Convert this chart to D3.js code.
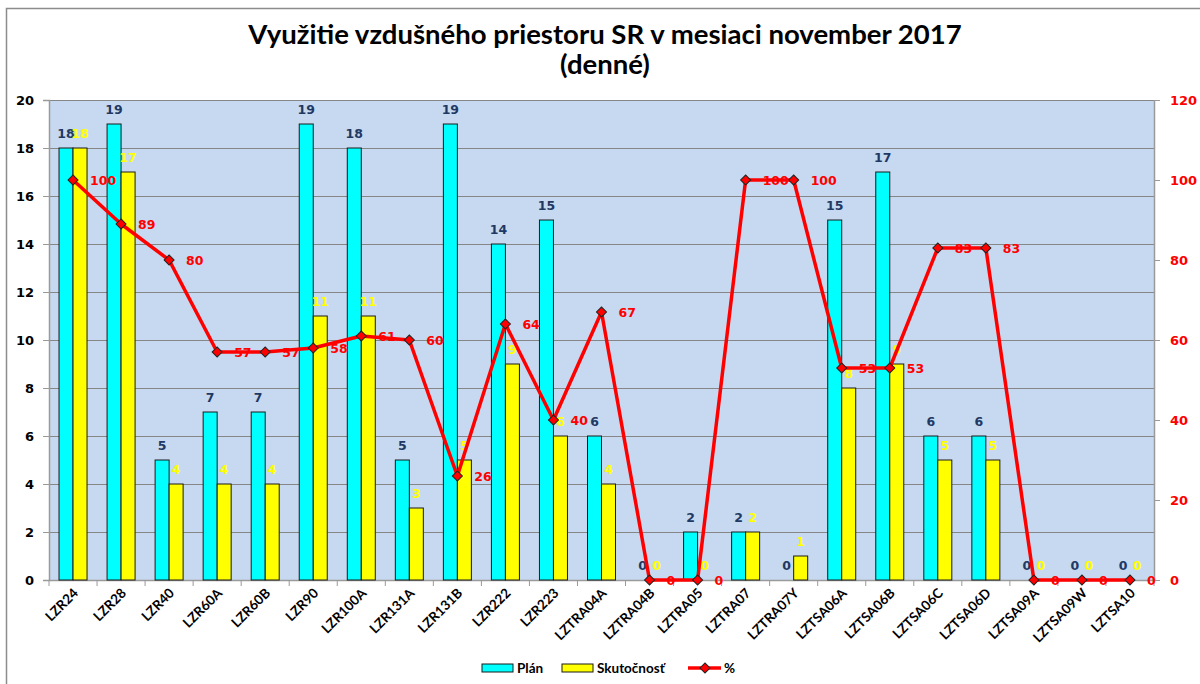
<!DOCTYPE html>
<html>
<head>
<meta charset="utf-8">
<script src="https://cdn.jsdelivr.net/npm/d3@7/dist/d3.min.js"></script>
<style>
  html, body { margin: 0; padding: 0; background: #ffffff; }
  svg { display: block; }
</style>
</head>
<body>
<svg id="chart" width="1200" height="684"></svg>
<script>
const categories = ["LZR24","LZR28","LZR40","LZR60A","LZR60B","LZR90","LZR100A","LZR131A","LZR131B","LZR222","LZR223","LZTRA04A","LZTRA04B","LZTRA05","LZTRA07","LZTRA07Y","LZTSA06A","LZTSA06B","LZTSA06C","LZTSA06D","LZTSA09A","LZTSA09W","LZTSA10"];
const plan    = [18,19,5,7,7,19,18,5,19,14,15,6,0,2,2,0,15,17,6,6,0,0,0];
const actual  = [18,17,4,4,4,11,11,3,5,9,6,4,0,0,2,1,8,9,5,5,0,0,0];
const percent = [100,89,80,57,57,58,61,60,26,64,40,67,0,0,100,100,53,53,83,83,0,0,0];
const leftTicks  = [0,2,4,6,8,10,12,14,16,18,20];
const rightTicks = [0,20,40,60,80,100,120];
const titleLines = ["Využitie vzdušného priestoru SR v mesiaci november 2017", "(denné)"];
const legendLabels = ["Plán", "Skutočnosť", "%"];

const svg = d3.select("#chart");
const plot = {left: 49, right: 1154, top: 100, bottom: 580};

// outer chart border
svg.append("rect").attr("x", 6.5).attr("y", 8.5).attr("width", 1250).attr("height", 720)
  .attr("fill", "#fff").attr("stroke", "#8c8c8c").attr("stroke-width", 1.5);

const x = d3.scaleBand().domain(categories).range([plot.left, plot.right]).paddingInner(0).paddingOuter(0);
const xSub = d3.scaleBand().domain(["plan","actual"]).range([0, 28]);
const yL = d3.scaleLinear().domain([0, 20]).range([plot.bottom, plot.top]);
const yR = d3.scaleLinear().domain([0, 120]).range([plot.bottom, plot.top]);

// plot background
svg.append("rect").attr("x", plot.left).attr("y", plot.top)
  .attr("width", plot.right - plot.left).attr("height", plot.bottom - plot.top)
  .attr("fill", "#c6d9f0");

// gridlines
svg.append("g").selectAll("line").data(leftTicks.filter(d => d > 0)).join("line")
  .attr("x1", plot.left).attr("x2", plot.right)
  .attr("y1", d => Math.round(yL(d)) + 0.5).attr("y2", d => Math.round(yL(d)) + 0.5)
  .attr("stroke", "#868686").attr("stroke-width", 1);

// right border of plot
svg.append("line").attr("x1", plot.right + 0.5).attr("x2", plot.right + 0.5)
  .attr("y1", plot.top).attr("y2", plot.bottom).attr("stroke", "#9a9a9a").attr("stroke-width", 1.5);

// left axis
const axL = svg.append("g").attr("transform", `translate(${plot.left},0)`)
  .call(d3.axisLeft(yL).tickValues(leftTicks).tickSize(6).tickPadding(9));
axL.select(".domain").attr("stroke", "#9a9a9a").attr("stroke-width", 1.5);
axL.selectAll(".tick line").attr("stroke", "#9a9a9a");
axL.selectAll(".tick text").attr("font-family", "DejaVu Sans").attr("font-weight", "bold")
  .attr("font-size", 13).attr("fill", "#000");

// right axis
const axR = svg.append("g").attr("transform", `translate(${plot.right},0)`)
  .call(d3.axisRight(yR).tickValues(rightTicks).tickSize(6).tickPadding(10));
axR.select(".domain").remove();
axR.selectAll(".tick line").attr("stroke", "#9a9a9a");
axR.selectAll(".tick text").attr("font-family", "DejaVu Sans").attr("font-weight", "bold")
  .attr("font-size", 13).attr("fill", "#ff0000");

// bottom axis
const axB = svg.append("g").attr("transform", `translate(0,${plot.bottom})`)
  .call(d3.axisBottom(x).tickSize(0).tickFormat(""));
axB.select(".domain").attr("stroke", "#9a9a9a").attr("stroke-width", 1.5);
svg.append("g").selectAll("line").data(categories).join("line")
  .attr("x1", (d) => x(d) + x.bandwidth()).attr("x2", (d) => x(d) + x.bandwidth())
  .attr("y1", plot.bottom).attr("y2", plot.bottom + 6).attr("stroke", "#9a9a9a");
svg.append("line").attr("x1", plot.left).attr("x2", plot.left).attr("y1", plot.bottom).attr("y2", plot.bottom + 6).attr("stroke", "#9a9a9a");

// x labels
svg.append("g").selectAll("text").data(categories).join("text")
  .attr("transform", d => `translate(${x(d) + x.bandwidth() / 2 + 6},${plot.bottom + 14}) rotate(-45)`)
  .attr("text-anchor", "end")
  .attr("font-family", "Lato").attr("font-weight", "bold").attr("font-size", 13.5).attr("fill", "#000")
  .text(d => d);

// bars
const barOffset = (x.bandwidth() - 28) / 2;
const bars = svg.append("g");
bars.selectAll("rect.plan").data(categories).join("rect").attr("class", "plan")
  .attr("x", (d) => x(d) + barOffset + xSub("plan"))
  .attr("y", (d, i) => yL(plan[i]))
  .attr("width", xSub.bandwidth())
  .attr("height", (d, i) => yL(0) - yL(plan[i]))
  .attr("fill", "#00ffff").attr("stroke", (d, i) => plan[i] > 0 ? "#1a1a1a" : "none").attr("stroke-width", 1);
bars.selectAll("rect.actual").data(categories).join("rect").attr("class", "actual")
  .attr("x", (d) => x(d) + barOffset + xSub("actual"))
  .attr("y", (d, i) => yL(actual[i]))
  .attr("width", xSub.bandwidth())
  .attr("height", (d, i) => yL(0) - yL(actual[i]))
  .attr("fill", "#ffff00").attr("stroke", (d, i) => actual[i] > 0 ? "#1a1a1a" : "none").attr("stroke-width", 1);

// bar labels
const labelFont = "DejaVu Sans";
svg.append("g").selectAll("text").data(categories).join("text")
  .attr("x", d => x(d) + barOffset + xSub("plan") + xSub.bandwidth() / 2)
  .attr("y", (d, i) => yL(plan[i]) - 10)
  .attr("text-anchor", "middle")
  .attr("font-family", labelFont).attr("font-weight", "bold").attr("font-size", 12.5).attr("fill", "#1f3864")
  .text((d, i) => plan[i]);
svg.append("g").selectAll("text").data(categories).join("text")
  .attr("x", d => x(d) + barOffset + xSub("actual") + xSub.bandwidth() / 2)
  .attr("y", (d, i) => yL(actual[i]) - 10)
  .attr("text-anchor", "middle")
  .attr("font-family", labelFont).attr("font-weight", "bold").attr("font-size", 12.5).attr("fill", "#ffff00")
  .text((d, i) => actual[i]);

// percentage line
const cx = d => x(d) + x.bandwidth() / 2;
const line = d3.line().x((d, i) => cx(categories[i])).y(d => yR(d));
svg.append("path").datum(percent).attr("d", line)
  .attr("fill", "none").attr("stroke", "#ff0000").attr("stroke-width", 3.5).attr("stroke-linejoin", "round");
svg.append("g").selectAll("path").data(percent).join("path")
  .attr("d", d3.symbol().type(d3.symbolSquare).size(50))
  .attr("transform", (d, i) => `translate(${cx(categories[i])},${yR(d)}) rotate(45)`)
  .attr("fill", "#ff0000").attr("stroke", "#222").attr("stroke-width", 1);
svg.append("g").selectAll("text").data(percent).join("text")
  .attr("x", (d, i) => cx(categories[i]) + 17)
  .attr("y", d => yR(d))
  .attr("dy", "0.36em")
  .attr("font-family", labelFont).attr("font-weight", "bold").attr("font-size", 12.5).attr("fill", "#ff0000")
  .text(d => d);

// title
const title = svg.append("g");
const t1 = title.append("text").attr("x", 605).attr("y", 44).attr("text-anchor", "middle")
  .attr("font-family", "Lato").attr("font-weight", "bold").attr("font-size", 24).attr("fill", "#000")
  .text(titleLines[0]);
const w1 = t1.node().getComputedTextLength();
const fs = 24 * 714 / w1;
t1.attr("font-size", fs);
title.append("text").attr("x", 605).attr("y", 74).attr("text-anchor", "middle")
  .attr("font-family", "Lato").attr("font-weight", "bold").attr("font-size", fs).attr("fill", "#000")
  .text(titleLines[1]);

// legend
const lg = svg.append("g").attr("font-family", "Lato").attr("font-weight", "bold").attr("font-size", 13.5);
lg.append("rect").attr("x", 482).attr("y", 664).attr("width", 31).attr("height", 8).attr("fill", "#00ffff").attr("stroke", "#1a1a1a");
lg.append("text").attr("x", 517).attr("y", 673).text(legendLabels[0]);
lg.append("rect").attr("x", 562).attr("y", 664).attr("width", 31).attr("height", 8).attr("fill", "#ffff00").attr("stroke", "#1a1a1a");
lg.append("text").attr("x", 597).attr("y", 673).text(legendLabels[1]);
lg.append("line").attr("x1", 688).attr("x2", 721).attr("y1", 668).attr("y2", 668).attr("stroke", "#ff0000").attr("stroke-width", 3.5);
lg.append("path").attr("d", d3.symbol().type(d3.symbolSquare).size(50)).attr("transform", "translate(705,668) rotate(45)")
  .attr("fill", "#ff0000").attr("stroke", "#222");
lg.append("text").attr("x", 724).attr("y", 673).text(legendLabels[2]);
</script>
</body>
</html>
